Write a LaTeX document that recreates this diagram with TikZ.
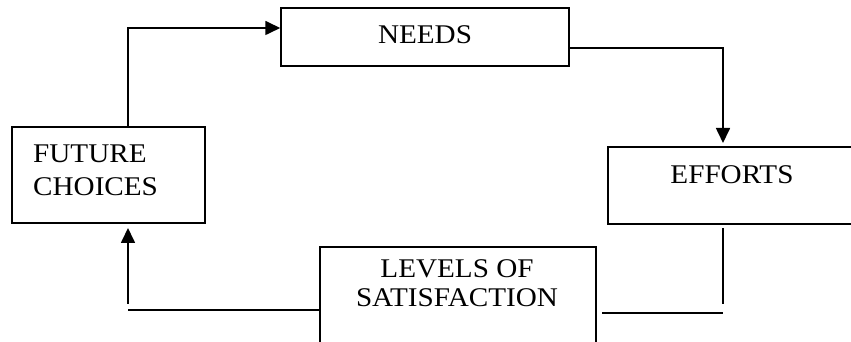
\documentclass[tikz,border=0pt]{standalone}
\usepackage{fontspec}
\setmainfont[FakeStretch=1.08]{Liberation Serif}
\usetikzlibrary{arrows.meta}
\begin{document}
\begin{tikzpicture}[x=1pt,y=1pt,
  box/.style={draw,line width=1.5pt,inner sep=0pt},
  lbl/.style={inner sep=0pt,font=\fontsize{27}{31}\selectfont},
  conn/.style={line width=1.7pt},
  arr/.style={line width=1.7pt,-{Triangle[length=15pt,width=14pt]}}]
\useasboundingbox (0,0) rectangle (851,342);
% boxes
\node[box,minimum width=288pt,minimum height=58pt] (needs) at (425,305) {};
\node[box,minimum width=193pt,minimum height=96pt] (fc) at (108.5,167) {};
\node[box,minimum width=248pt,minimum height=77pt] (efforts) at (732,156.5) {};
\node[box,minimum width=276pt,minimum height=120pt] (levels) at (458,35) {};
% texts
\node[lbl,anchor=base] (tneeds) at (425,298) {NEEDS};
\node[lbl,anchor=base west] (tfut) at (33,179) {FUTURE};
\node[lbl,anchor=base west] (tcho) at (33,146) {CHOICES};
\node[lbl,anchor=base] (teff) at (732,158) {EFFORTS};
\node[lbl,anchor=base] (tlev) at (457,64) {LEVELS OF};
\node[lbl,anchor=base] (tsat) at (457,35) {SATISFACTION};
% connectors
\coordinate (c1) at (128,314);
\draw[arr] (fc.north -| c1) -- (c1) -- (needs.west |- c1);
\coordinate (c2) at (723,294);
\coordinate (c2e) at (723,199);
\draw[arr] (needs.east |- c2) -- (c2) -- (c2e);
\coordinate (c3a) at (723,114);
\coordinate (c3b) at (723,38);
\draw[line width=1.1pt] (c3a) -- (c3b);
\coordinate (c4a) at (602,29);
\coordinate (c4b) at (723,29);
\draw[conn] (c4a) -- (c4b);
\coordinate (c5) at (128,32);
\draw[conn] (levels.west |- c5) -- (c5);
\coordinate (c6a) at (128,38);
\coordinate (c6b) at (128,114);
\draw[arr] (c6a) -- (c6b);
\end{tikzpicture}
\end{document}
